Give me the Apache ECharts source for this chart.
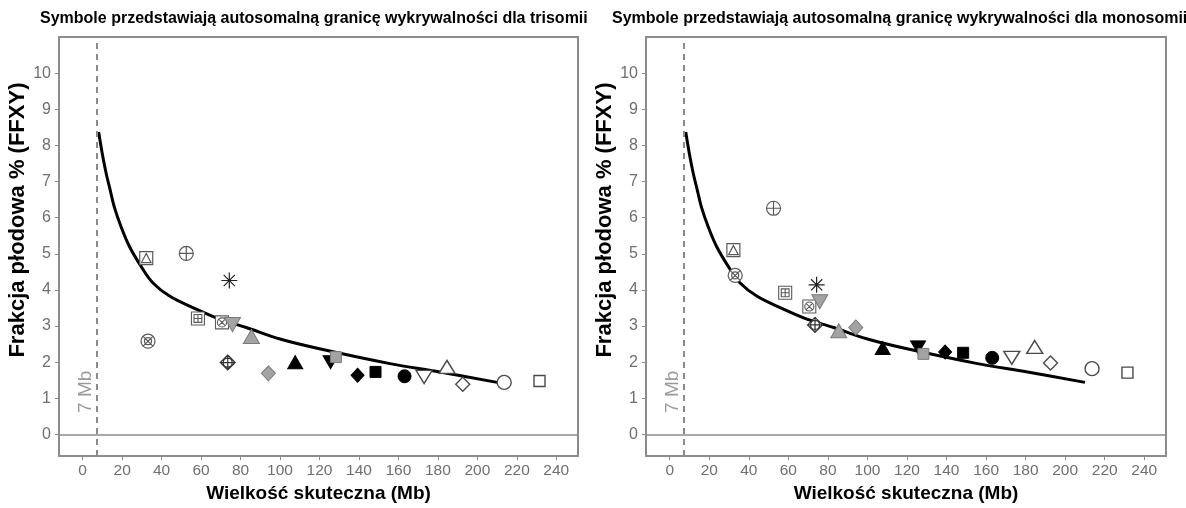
<!DOCTYPE html>
<html>
<head>
<meta charset="utf-8">
<script src="https://cdn.jsdelivr.net/npm/echarts@6/dist/echarts.min.js"></script>
<style>html,body{margin:0;padding:0;background:#fff}#c{width:1186px;height:508px}</style>
</head>
<body>
<div id="c"></div>
<script>
// ---- data ----
const panelTitles = ['Symbole przedstawiają autosomalną granicę wykrywalności dla trisomii',
                     'Symbole przedstawiają autosomalną granicę wykrywalności dla monosomii'];
const xTicks = [0, 20, 40, 60, 80, 100, 120, 140, 160, 180, 200, 220, 240];
const yTicks = [0, 1, 2, 3, 4, 5, 6, 7, 8, 9, 10];
const xAxisTitle = 'Wielkość skuteczna (Mb)';
const yAxisTitle = 'Frakcja płodowa % (FFXY)';
const limitMb = 7;
const limitLabel = '7 Mb';
const curveX = [8.1, 10, 12, 14, 16, 19.5, 23.7, 29.6, 35.5, 44, 55.8, 69.4, 82.9, 100, 120, 155.7, 181, 210];
const curveY = [8.37, 7.75, 7.2, 6.75, 6.3, 5.74, 5.2, 4.65, 4.2, 3.83, 3.51, 3.19, 2.96, 2.64, 2.37, 1.96, 1.73, 1.44];
const markerTypes = ['sqTri','circPlus','asterisk','sqPlus','sqX','grayDown','grayUp','circX','diaPlus','grayDia',
                     'blackUp','blackDown','graySq','blackDia','blackSq','blackCirc','openDown','openUp','openDia','openCirc','openSq'];
const sizeX    = [32.2, 52.5, 74.3, 58.4, 70.6, 75.9, 85.5, 33.1, 73.5, 94.1, 107.7, 125.6, 128.3, 139.3, 148.4, 163.1, 173.0, 184.6, 192.6, 213.6, 231.5];
const trisomyY = [4.88, 5.01, 4.26, 3.21, 3.10, 3.04, 2.71, 2.58, 1.99, 1.69, 2.00, 2.00, 2.14, 1.64, 1.73, 1.61, 1.59, 1.87, 1.39, 1.44, 1.48];
const monosomyY= [5.10, 6.26, 4.14, 3.92, 3.54, 3.67, 2.87, 4.40, 3.03, 2.96, 2.39, 2.41, 2.23, 2.28, 2.26, 2.12, 2.12, 2.42, 1.98, 1.82, 1.71];
const panelValues = [trisomyY, monosomyY];

// ---- styles ----
const OPEN = '#4a4a4a', GRAYF = '#a3a3a3', GRAYS = '#7a7a7a', COMP = '#5a5a5a';
const symbolDefs = {
  sqTri:    {symbol:'path://M0 0H20V20H0Z M2.5 17L10 3L17.5 17Z', size:13, fill:'#fff', stroke:COMP, bw:1.2},
  circPlus: {symbol:'path://M10 0A10 10 0 1 1 10 20A10 10 0 1 1 10 0Z M10 0V20 M0 10H20', size:14, fill:'#fff', stroke:COMP, bw:1.2},
  asterisk: {symbol:'path://M10 0V20 M0 10H20 M3 3L17 17 M17 3L3 17 M9 9H11V11H9Z', size:16, fill:'#222', stroke:'#222', bw:1.2},
  sqPlus:   {symbol:'path://M0 0H20V20H0Z M4 4H16V16H4Z M10 4V16 M4 10H16', size:13, fill:'#fff', stroke:COMP, bw:1.1},
  sqX:      {symbol:'path://M0 0H20V20H0Z M10 3A7 7 0 1 1 10 17A7 7 0 1 1 10 3Z M5 5L15 15 M15 5L5 15', size:13, fill:'#fff', stroke:COMP, bw:1.1},
  grayDown: {symbol:'triangle', rotate:180, size:[16,14], fill:GRAYF, stroke:GRAYS, bw:1},
  grayUp:   {symbol:'triangle', size:[16,14], fill:GRAYF, stroke:GRAYS, bw:1},
  circX:    {symbol:'path://M10 0A10 10 0 1 1 10 20A10 10 0 1 1 10 0Z M10 5A5 5 0 1 1 10 15A5 5 0 1 1 10 5Z M3 3L17 17 M17 3L3 17', size:14, fill:'#fff', stroke:COMP, bw:1.2},
  diaPlus:  {symbol:'path://M10 0L20 10L10 20L0 10Z M10 4A6 6 0 1 1 10 16A6 6 0 1 1 10 4Z M10 0V20 M0 10H20', size:15, fill:'#fff', stroke:'#333', bw:1.2},
  grayDia:  {symbol:'diamond', size:[14,15], fill:GRAYF, stroke:GRAYS, bw:1},
  blackUp:  {symbol:'triangle', size:[15,13], fill:'#000', stroke:'#000', bw:1},
  blackDown:{symbol:'triangle', rotate:180, size:[15,13], fill:'#000', stroke:'#000', bw:1},
  graySq:   {symbol:'rect', size:11, fill:GRAYF, stroke:GRAYS, bw:1},
  blackDia: {symbol:'diamond', size:[13,14], fill:'#000', stroke:'#000', bw:1},
  blackSq:  {symbol:'rect', size:11, fill:'#000', stroke:'#000', bw:1},
  blackCirc:{symbol:'circle', size:13, fill:'#000', stroke:'#000', bw:1},
  openDown: {symbol:'triangle', rotate:180, size:[16,13], fill:'#fff', stroke:OPEN, bw:1.4},
  openUp:   {symbol:'triangle', size:[16,13], fill:'#fff', stroke:OPEN, bw:1.4},
  openDia:  {symbol:'diamond', size:[14,14], fill:'#fff', stroke:OPEN, bw:1.4},
  openCirc: {symbol:'circle', size:14, fill:'#fff', stroke:OPEN, bw:1.4},
  openSq:   {symbol:'rect', size:11, fill:'#fff', stroke:OPEN, bw:1.4}
};

const FONT = 'Liberation Sans';
const AXC = '#8c8c8c';
const grids = [
  {left: 59, top: 37, width: 519, height: 425},
  {left: 646, top: 37, width: 520, height: 425}
];
const titleLeft = [40, 612];

const option = {
  animation: false,
  backgroundColor: '#fff',
  title: panelTitles.map((t, i) => ({
    text: t, left: titleLeft[i], top: 11, padding: 0,
    textStyle: {fontFamily: FONT, fontSize: 16, fontWeight: 'bold', color: '#000'}
  })),
  grid: grids.map(g => Object.assign({show: true, borderColor: AXC, borderWidth: 2, backgroundColor: '#fff'}, g)),
  xAxis: grids.map((g, i) => ({
    type: 'value', gridIndex: i, min: -12, max: 251,
    name: xAxisTitle, nameLocation: 'middle', nameGap: 25,
    nameTextStyle: {fontFamily: FONT, fontSize: 19, fontWeight: 'bold', color: '#000'},
    axisLine: {show: true, onZero: false, lineStyle: {color: AXC, width: 2}},
    axisTick: {show: true, length: 4, lineStyle: {color: AXC}, customValues: xTicks},
    axisLabel: {fontFamily: FONT, fontSize: 15.5, color: '#6f6f6f', margin: 7, customValues: xTicks},
    splitLine: {show: false}
  })),
  yAxis: grids.map((g, i) => ({
    type: 'value', gridIndex: i, min: -0.6, max: 11,
    name: yAxisTitle, nameLocation: 'middle', nameGap: 29, nameRotate: 90,
    nameTextStyle: {fontFamily: FONT, fontSize: 22, fontWeight: 'bold', color: '#000', padding: [0, 0, 0, 53]},
    axisLine: {show: true, onZero: false, lineStyle: {color: AXC, width: 2}},
    axisTick: {show: true, length: 4, lineStyle: {color: AXC}, customValues: yTicks},
    axisLabel: {fontFamily: FONT, fontSize: 16, color: '#6f6f6f', margin: 8, customValues: yTicks},
    splitLine: {show: false}
  })),
  series: []
};

[0, 1].forEach(p => {
  // reference lines + curve
  option.series.push({
    type: 'line', xAxisIndex: p, yAxisIndex: p, z: 3,
    data: curveX.map((x, k) => [x, curveY[k]]),
    smooth: 0.35, symbol: 'none',
    lineStyle: {color: '#000', width: 3},
    markLine: {
      silent: true, symbol: 'none', animation: false, label: {show: false},
      data: [
        {yAxis: 0, lineStyle: {color: '#8a8a8a', width: 1.5, type: 'solid'}},
        {xAxis: limitMb, lineStyle: {color: '#8a8a8a', width: 2, type: [6, 5]}}
      ]
    }
  });
  // "7 Mb" label
  option.series.push({
    type: 'custom', xAxisIndex: p, yAxisIndex: p, z: 4,
    data: [[limitMb, 1.18]],
    renderItem: (params, api) => {
      const pt = api.coord([api.value(0), api.value(1)]);
      return {
        type: 'text', x: pt[0] - 10.5, y: pt[1], rotation: Math.PI / 2,
        style: {text: limitLabel, fill: '#9a9a9a', fontSize: 19, fontFamily: FONT, align: 'center', verticalAlign: 'middle'}
      };
    }
  });
  // markers
  markerTypes.forEach((m, k) => {
    const d = symbolDefs[m];
    option.series.push({
      type: 'scatter', xAxisIndex: p, yAxisIndex: p, z: 5,
      symbol: d.symbol, symbolSize: d.size, symbolRotate: d.rotate || 0,
      itemStyle: {color: d.fill, borderColor: d.stroke, borderWidth: d.bw, opacity: 1},
      data: [[sizeX[k], panelValues[p][k]]]
    });
  });
});

const chart = echarts.init(document.getElementById('c'), null, {renderer: 'canvas'});
chart.setOption(option);
</script>
</body>
</html>
